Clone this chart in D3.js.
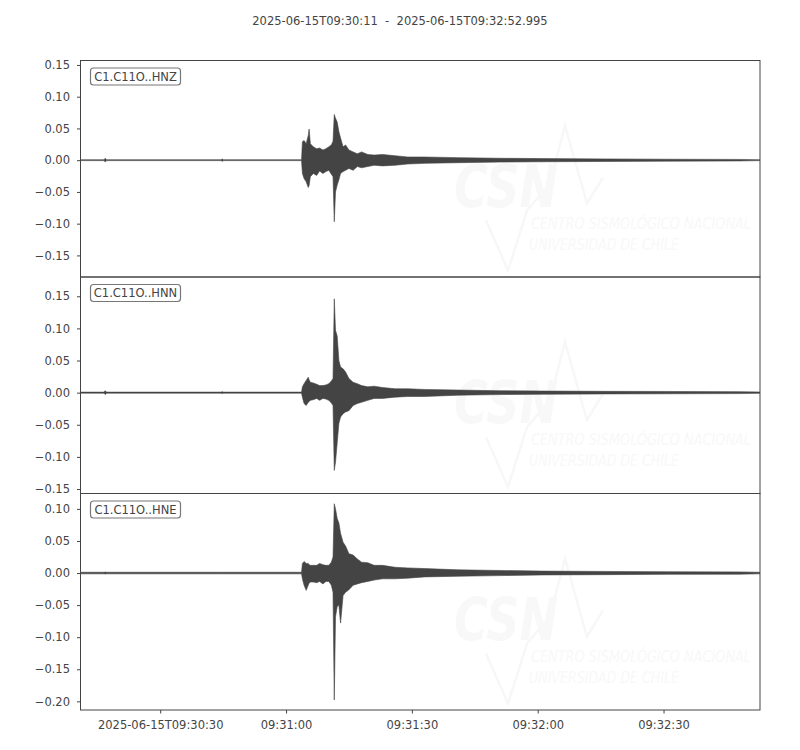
<!DOCTYPE html>
<html>
<head>
<meta charset="utf-8">
<script src="https://cdn.jsdelivr.net/npm/d3@7"></script>
<style>
  body { margin: 0; background: #fff; }
  text { font-family: "DejaVu Sans", sans-serif; }
</style>
</head>
<body>
<svg id="chart" width="800" height="750"></svg>
<script>
// record window
var startLabel = '2025-06-15T09:30:11';
var endLabel = '2025-06-15T09:32:52.995';
var duration = 161.995; // seconds

var channels = ['C1.C11O..HNZ', 'C1.C11O..HNN', 'C1.C11O..HNE'];

// seconds since start, shared by the envelopes below
var times = [0, 5.6, 5.9, 6.2, 33.5, 33.8, 34.1, 52.7, 52.9, 53.3,
             53.8, 54.3, 54.5, 54.8, 55.5, 56.3, 57.0, 57.8, 58.5, 59.2,
             59.8, 60.2, 60.5, 60.8, 61.2, 61.6, 62.0, 62.6, 63.2, 64.0,
             65, 66, 67, 68.5, 70, 72, 75, 78, 82, 90,
             100, 110, 125, 140, 157, 161.995];

// min/max envelope of each trace
var hnzHi = [0.0007, 0.0007, 0.003, 0.0007, 0.0007, 0.0018, 0.0007, 0.0007, 0.029, 0.031,
             0.026, 0.039, 0.049, 0.026, 0.021, 0.018, 0.019, 0.016, 0.018, 0.021,
             0.024, 0.030, 0.072, 0.066, 0.060, 0.045, 0.035, 0.021, 0.024, 0.016,
             0.013, 0.010, 0.013, 0.009, 0.008, 0.009, 0.007, 0.005, 0.005, 0.004,
             0.003, 0.0025, 0.002, 0.0015, 0.0012, 0.0007];
var hnzLo = [-0.0007, -0.0007, -0.003, -0.0007, -0.0007, -0.0018, -0.0007, -0.0007, -0.021, -0.029,
             -0.034, -0.043, -0.040, -0.026, -0.021, -0.024, -0.017, -0.021, -0.018, -0.016,
             -0.022, -0.026, -0.097, -0.050, -0.039, -0.031, -0.021, -0.018, -0.016, -0.013,
             -0.016, -0.010, -0.012, -0.010, -0.008, -0.009, -0.008, -0.006, -0.005, -0.004,
             -0.003, -0.0025, -0.002, -0.0015, -0.0012, -0.0007];

var hnnHi = [0.0008, 0.0008, 0.003, 0.0008, 0.0008, 0.0015, 0.0008, 0.0008, 0.009, 0.014,
             0.019, 0.024, 0.020, 0.016, 0.015, 0.013, 0.011, 0.011, 0.012, 0.014,
             0.018, 0.022, 0.146, 0.097, 0.088, 0.050, 0.040, 0.037, 0.032, 0.022,
             0.016, 0.014, 0.011, 0.009, 0.010, 0.008, 0.006, 0.006, 0.005, 0.004,
             0.003, 0.0025, 0.002, 0.0018, 0.0015, 0.001];
var hnnLo = [-0.0008, -0.0008, -0.003, -0.0008, -0.0008, -0.0015, -0.0008, -0.0008, -0.007, -0.017,
             -0.020, -0.015, -0.014, -0.012, -0.011, -0.009, -0.012, -0.009, -0.010, -0.012,
             -0.016, -0.020, -0.121, -0.108, -0.078, -0.048, -0.038, -0.033, -0.030, -0.028,
             -0.020, -0.017, -0.015, -0.012, -0.009, -0.009, -0.007, -0.006, -0.006, -0.004,
             -0.003, -0.0025, -0.002, -0.0018, -0.0015, -0.001];

var hneHi = [0.0012, 0.0012, 0.0015, 0.0012, 0.0012, 0.0012, 0.0012, 0.0012, 0.015, 0.018,
             0.015, 0.015, 0.013, 0.012, 0.012, 0.012, 0.015, 0.013, 0.012, 0.012,
             0.017, 0.025, 0.108, 0.100, 0.085, 0.078, 0.062, 0.048, 0.042, 0.030,
             0.028, 0.022, 0.017, 0.016, 0.012, 0.012, 0.009, 0.008, 0.007, 0.005,
             0.004, 0.003, 0.0025, 0.002, 0.0018, 0.0012];
var hneLo = [-0.0012, -0.0012, -0.0015, -0.0012, -0.0012, -0.0012, -0.0012, -0.0012, -0.009, -0.019,
             -0.027, -0.019, -0.016, -0.014, -0.014, -0.015, -0.013, -0.017, -0.013, -0.013,
             -0.019, -0.030, -0.198, -0.068, -0.052, -0.050, -0.078, -0.035, -0.030, -0.026,
             -0.019, -0.017, -0.015, -0.013, -0.011, -0.009, -0.009, -0.008, -0.006, -0.005,
             -0.004, -0.003, -0.0025, -0.002, -0.0018, -0.0012];

var highs = [hnzHi, hnnHi, hneHi];
var lows = [hnzLo, hnnLo, hneLo];

var yDomains = [[-0.184, 0.157], [-0.157, 0.180], [-0.2135, 0.124]];
var yTicks = [
  [-0.15, -0.10, -0.05, 0, 0.05, 0.10, 0.15],
  [-0.15, -0.10, -0.05, 0, 0.05, 0.10, 0.15],
  [-0.20, -0.15, -0.10, -0.05, 0, 0.05, 0.10]
];

var xTickSeconds = [19, 49, 79, 109, 139];
var xTickLabels = ['2025-06-15T09:30:30', '09:31:00', '09:31:30', '09:32:00', '09:32:30'];

// layout
var left = 80.5, right = 760;
var top0 = 60.5, panelH = 216.5;
var ink = '#444';

var svg = d3.select('#chart');

svg.append('text')
  .attr('x', 400)
  .attr('y', 25)
  .attr('text-anchor', 'middle')
  .attr('font-size', '11.5px')
  .attr('fill', ink)
  .style('white-space', 'pre')
  .text(startLabel + '  -  ' + endLabel);

var x = d3.scaleLinear().domain([0, duration]).range([left, right]);
var fmt = d3.format('.2f');

channels.forEach(function (name, i) {
  var top = top0 + i * panelH;
  var y = d3.scaleLinear().domain(yDomains[i]).range([top + panelH, top]);
  var g = svg.append('g');

  g.append('clipPath').attr('id', 'clip' + i)
    .append('rect')
    .attr('x', left).attr('y', top)
    .attr('width', right - left).attr('height', panelH);

  // faint CSN watermark
  var wm = g.append('g').attr('clip-path', 'url(#clip' + i + ')').attr('fill', '#f8f8f8');
  wm.append('polyline')
    .attr('points', [[486, top + 160], [508, top + 210], [527, top + 150], [550, top + 123],
                     [565, top + 65], [587, top + 143], [603, top + 117]].join(' '))
    .attr('fill', 'none').attr('stroke', '#f7f7f7').attr('stroke-width', 2.5);
  wm.append('text')
    .attr('x', 454).attr('y', top + 146)
    .attr('font-size', '58px').attr('font-weight', 'bold').attr('font-style', 'italic')
    .attr('textLength', 104).attr('lengthAdjust', 'spacingAndGlyphs')
    .text('CSN');
  wm.append('text')
    .attr('transform', 'translate(531,' + (top + 168) + ') scale(1,1.3)')
    .attr('font-family', 'Roboto, sans-serif')
    .attr('font-size', '12.5px').attr('font-style', 'italic')
    .attr('textLength', 220).attr('lengthAdjust', 'spacingAndGlyphs')
    .text('CENTRO SISMOLÓGICO NACIONAL');
  wm.append('text')
    .attr('transform', 'translate(529,' + (top + 189) + ') scale(1,1.3)')
    .attr('font-family', 'Roboto, sans-serif')
    .attr('font-size', '12.5px').attr('font-style', 'italic')
    .attr('textLength', 150).attr('lengthAdjust', 'spacingAndGlyphs')
    .text('UNIVERSIDAD DE CHILE');

  // trace envelope
  var area = d3.area()
    .x(function (d) { return x(d); })
    .y0(function (d, j) { return y(lows[i][j]); })
    .y1(function (d, j) { return y(highs[i][j]); });

  g.append('path')
    .datum(times)
    .attr('clip-path', 'url(#clip' + i + ')')
    .attr('d', area)
    .attr('fill', ink)
    .attr('stroke', ink)
    .attr('stroke-width', 0.6);

  // frame
  g.append('rect')
    .attr('x', left).attr('y', top)
    .attr('width', right - left).attr('height', panelH)
    .attr('fill', 'none').attr('stroke', ink).attr('stroke-width', 1);

  var yAxis = d3.axisLeft(y)
    .tickValues(yTicks[i])
    .tickFormat(fmt)
    .tickSize(3.5)
    .tickPadding(7)
    .tickSizeOuter(0);

  var ya = g.append('g').attr('transform', 'translate(' + left + ',0)').call(yAxis);
  ya.select('.domain').remove();
  ya.selectAll('line').attr('stroke', ink);
  ya.selectAll('text').attr('fill', ink).attr('font-size', '11.5px')
    .attr('font-family', '"DejaVu Sans", sans-serif');

  // channel label
  g.append('rect')
    .attr('x', 90.5).attr('y', top + 7.5)
    .attr('width', 90).attr('height', 17).attr('rx', 3)
    .attr('fill', '#fff').attr('stroke', '#777').attr('stroke-width', 1.2);
  g.append('text')
    .attr('x', 135.5).attr('y', top + 16)
    .attr('dy', '0.35em')
    .attr('text-anchor', 'middle')
    .attr('font-size', '11.5px')
    .attr('fill', ink)
    .text(name);

  if (i === channels.length - 1) {
    var xAxis = d3.axisBottom(x)
      .tickValues(xTickSeconds)
      .tickFormat(function (d, k) { return xTickLabels[k]; })
      .tickSize(3.5)
      .tickPadding(7)
      .tickSizeOuter(0);
    var xa = g.append('g').attr('transform', 'translate(0,' + (top + panelH) + ')').call(xAxis);
    xa.select('.domain').remove();
    xa.selectAll('line').attr('stroke', ink);
    xa.selectAll('text').attr('fill', ink).attr('font-size', '11.5px')
      .attr('font-family', '"DejaVu Sans", sans-serif');
  }
});
</script>
</body>
</html>
